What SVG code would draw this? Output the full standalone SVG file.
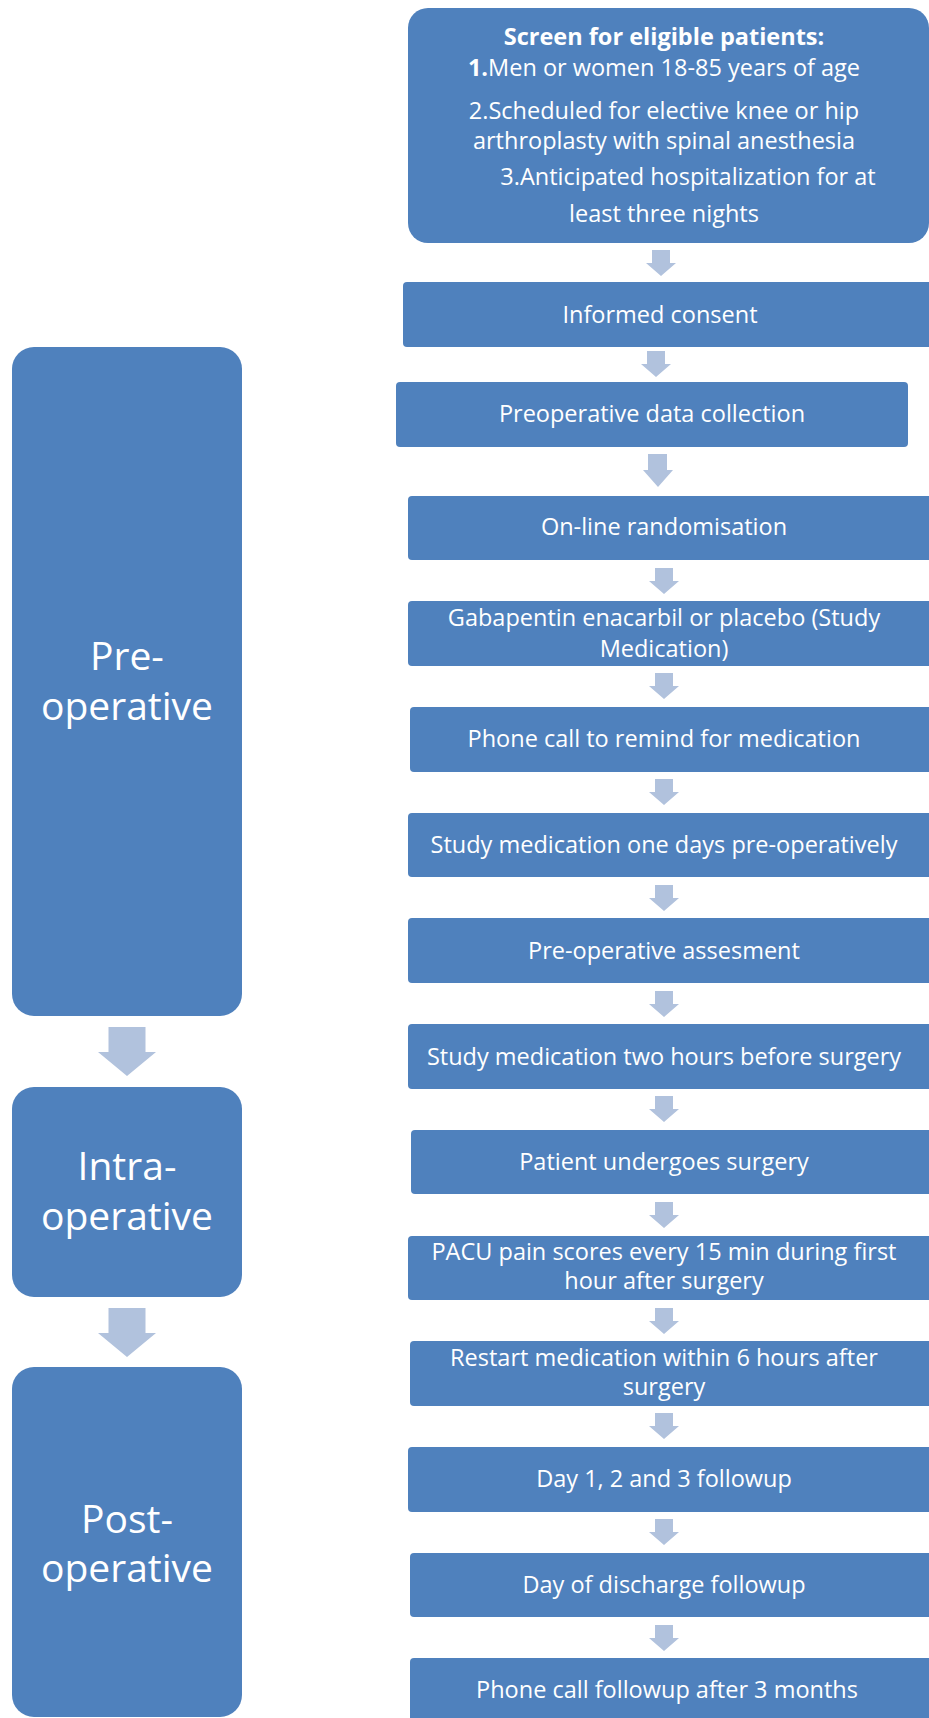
<svg xmlns="http://www.w3.org/2000/svg" width="929" height="1718" viewBox="0 0 929 1718">
  <style>
    .box { fill: #4F81BD; }
    .arrow { fill: #B1C2DD; }
    .t { font-family: "Open Sans", "Liberation Sans", sans-serif; font-size: 23.5px; fill: #FFFFFF; text-anchor: middle; }
    .tb { font-weight: bold; }
    .phase { font-family: "Open Sans", "Liberation Sans", sans-serif; font-size: 39px; fill: #FFFFFF; text-anchor: middle; }
  </style>
  <defs>
    <!-- block arrow used between the step boxes -->
    <path id="stepArrow" d="M -9 0 H 9 V 13 H 15 L 0 26 L -15 13 H -9 Z"/>
    <!-- larger block arrow used between the phase boxes -->
    <path id="phaseArrow" d="M -18.5 0 H 18.5 V 25 H 29 L 0 49 L -29 25 H -18.5 Z"/>
  </defs>

  <rect width="929" height="1718" fill="#FFFFFF"/>

  <!-- phase column -->
  <g id="phase-pre">
    <rect class="box" x="12" y="347" width="230" height="669" rx="22"/>
    <text class="phase"><tspan x="127" y="670">Pre-</tspan><tspan x="127" y="720">operative</tspan></text>
  </g>
  <g id="phase-intra">
    <rect class="box" x="12" y="1087" width="230" height="210" rx="22"/>
    <text class="phase"><tspan x="127" y="1180">Intra-</tspan><tspan x="127" y="1230">operative</tspan></text>
  </g>
  <g id="phase-post">
    <rect class="box" x="12" y="1367" width="230" height="350" rx="22"/>
    <text class="phase"><tspan x="127" y="1533">Post-</tspan><tspan x="127" y="1582">operative</tspan></text>
  </g>

  <!-- step column -->
  <g id="step-screen">
    <rect class="box" x="408" y="8" width="521" height="235" rx="20"/>
    <text class="t"><tspan class="tb" x="664" y="45">Screen for eligible patients:</tspan><tspan x="664" y="76"><tspan class="tb">1.</tspan>Men or women 18-85 years of age</tspan></text>
    <text class="t"><tspan x="664" y="119">2.Scheduled for elective knee or hip</tspan><tspan x="664" y="149">arthroplasty with spinal anesthesia</tspan></text>
    <text class="t"><tspan x="688" y="185">3.Anticipated hospitalization for at</tspan><tspan x="664" y="222">least three nights</tspan></text>
  </g>
  <g id="step-consent">
    <rect class="box" x="403" y="282" width="540" height="65" rx="4"/>
    <text class="t" x="660" y="323">Informed consent</text>
  </g>
  <g id="step-preop-data">
    <rect class="box" x="396" y="382" width="512" height="65" rx="4"/>
    <text class="t" x="652" y="422">Preoperative data collection</text>
  </g>
  <g id="step-randomisation">
    <rect class="box" x="408" y="496" width="535" height="64" rx="4"/>
    <text class="t" x="664" y="535">On-line randomisation</text>
  </g>
  <g id="step-medication">
    <rect class="box" x="408" y="601" width="535" height="65" rx="4"/>
    <text class="t"><tspan x="664" y="626">Gabapentin enacarbil or placebo (Study</tspan><tspan x="664" y="657">Medication)</tspan></text>
  </g>
  <g id="step-remind-call">
    <rect class="box" x="410" y="707" width="533" height="65" rx="4"/>
    <text class="t" x="664" y="747">Phone call to remind for medication</text>
  </g>
  <g id="step-med-day-before">
    <rect class="box" x="408" y="813" width="535" height="64" rx="4"/>
    <text class="t" x="664" y="853">Study medication one days pre-operatively</text>
  </g>
  <g id="step-preop-assessment">
    <rect class="box" x="408" y="918" width="535" height="65" rx="4"/>
    <text class="t" x="664" y="959">Pre-operative assesment</text>
  </g>
  <g id="step-med-two-hours">
    <rect class="box" x="408" y="1024" width="535" height="65" rx="4"/>
    <text class="t" x="664" y="1065">Study medication two hours before surgery</text>
  </g>
  <g id="step-surgery">
    <rect class="box" x="411" y="1130" width="532" height="64" rx="4"/>
    <text class="t" x="664" y="1170">Patient undergoes surgery</text>
  </g>
  <g id="step-pacu">
    <rect class="box" x="408" y="1236" width="535" height="64" rx="4"/>
    <text class="t"><tspan x="664" y="1260">PACU pain scores every 15 min during first</tspan><tspan x="664" y="1289">hour after surgery</tspan></text>
  </g>
  <g id="step-restart">
    <rect class="box" x="410" y="1341" width="533" height="65" rx="4"/>
    <text class="t"><tspan x="664" y="1366">Restart medication within 6 hours after</tspan><tspan x="664" y="1395">surgery</tspan></text>
  </g>
  <g id="step-days-123">
    <rect class="box" x="408" y="1447" width="535" height="65" rx="4"/>
    <text class="t" x="664" y="1487">Day 1, 2 and 3 followup</text>
  </g>
  <g id="step-discharge">
    <rect class="box" x="410" y="1553" width="533" height="64" rx="4"/>
    <text class="t" x="664" y="1593">Day of discharge followup</text>
  </g>
  <g id="step-three-months">
    <rect class="box" x="410" y="1658" width="533" height="70" rx="4"/>
    <text class="t" x="667" y="1698">Phone call followup after 3 months</text>
  </g>

  <!-- connectors -->
  <g id="connectors" class="arrow">
    <use href="#phaseArrow" x="127" y="1027"/>
    <use href="#phaseArrow" x="127" y="1308"/>

    <use href="#stepArrow" x="661" y="250"/>
    <use href="#stepArrow" x="656" y="351"/>
    <path d="M 648 454 H 667 V 470 H 673 L 658 487 L 643 470 H 648 Z"/>
    <use href="#stepArrow" x="664" y="568"/>
    <use href="#stepArrow" x="664" y="673"/>
    <use href="#stepArrow" x="664" y="779"/>
    <use href="#stepArrow" x="664" y="885"/>
    <use href="#stepArrow" x="664" y="991"/>
    <use href="#stepArrow" x="664" y="1096"/>
    <use href="#stepArrow" x="664" y="1202"/>
    <use href="#stepArrow" x="664" y="1308"/>
    <use href="#stepArrow" x="664" y="1413"/>
    <use href="#stepArrow" x="664" y="1519"/>
    <use href="#stepArrow" x="664" y="1625"/>
  </g>
</svg>
